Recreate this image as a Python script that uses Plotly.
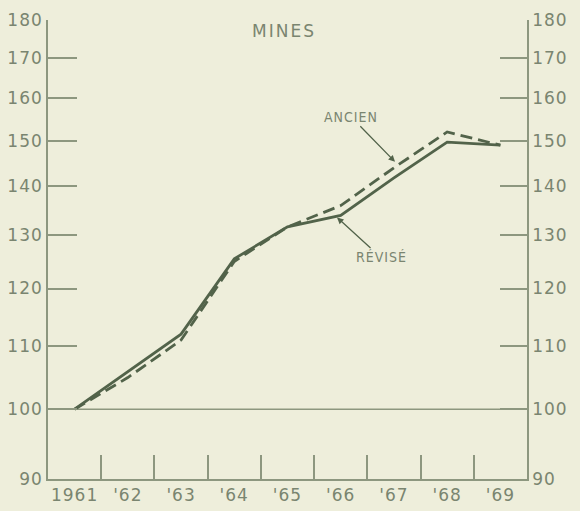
import math
import plotly.graph_objects as go

# ---- data ----
YEARS = [1961, 1962, 1963, 1964, 1965, 1966, 1967, 1968, 1969]
YEAR_LABELS = ["1961", "'62", "'63", "'64", "'65", "'66", "'67", "'68", "'69"]
REVISE = [100, 105.8, 112, 125.5, 131.7, 134, 141.8, 149.7, 149]
ANCIEN = [100, 104.9, 111, 125, 131.7, 136, 144, 152, 149]
Y_TICKS = [90, 100, 110, 120, 130, 140, 150, 160, 170, 180]
Y_TICK_LABELS = ["90", "100", "110", "120", "130", "140", "150", "160", "170", "180"]
BASE = 100
TITLE = "MINES"

# ---- style ----
BG = "#eeeedb"
AXIS = "#8d977f"
LINE = "#52634a"
TEXT = "#7a8570"
FONT = "DejaVu Sans"

x_min, x_max = YEARS[0] - 0.5, YEARS[-1] + 0.5
y_range = [math.log10(Y_TICKS[0]), math.log10(Y_TICKS[-1])]
boundaries = [y + 0.5 for y in YEARS[:-1]]


def spaced(s, px=2):
    return f'<span style="letter-spacing:{px}px">{s}</span>'


fig = go.Figure()

# baseline at index 100
fig.add_trace(go.Scatter(
    x=[x_min, x_max], y=[BASE, BASE], mode="lines",
    line=dict(color=AXIS, width=1.6), hoverinfo="skip", showlegend=False,
))
fig.add_trace(go.Scatter(
    x=YEARS, y=REVISE, mode="lines", name="Révisé",
    line=dict(color=LINE, width=2.8), showlegend=False,
))
fig.add_trace(go.Scatter(
    x=YEARS, y=ANCIEN, mode="lines", name="Ancien", yaxis="y2",
    line=dict(color=LINE, width=2.8, dash="12px,6px"), showlegend=False,
))

tickfont = dict(family=FONT, size=17, color=TEXT)
ytext = [spaced(t, 1) for t in Y_TICK_LABELS]
xtext = [spaced(t, 1) for t in YEAR_LABELS]

fig.update_layout(
    width=580, height=511,
    margin=dict(l=48, r=53, t=20, b=32),
    paper_bgcolor=BG, plot_bgcolor=BG,
    xaxis=dict(
        range=[x_min, x_max], tickmode="array", tickvals=YEARS, ticktext=xtext,
        ticks="", showline=True, linecolor=AXIS, linewidth=1.6, automargin=False,
        showgrid=False, zeroline=False, tickfont=tickfont,
        minor=dict(tickmode="array", tickvals=boundaries, ticks="inside",
                   ticklen=24, tickcolor=AXIS, tickwidth=1.6, showgrid=False),
    ),
    yaxis=dict(
        type="log", range=y_range, tickmode="array", tickvals=Y_TICKS,
        ticktext=ytext, ticks="inside", ticklen=29, tickcolor=AXIS,
        tickwidth=1.6, showline=True, linecolor=AXIS, linewidth=1.6,
        showgrid=False, zeroline=False, tickfont=tickfont, side="left",
        automargin=False,
    ),
    yaxis2=dict(
        type="log", range=y_range, tickmode="array", tickvals=Y_TICKS,
        ticktext=ytext, ticks="inside", ticklen=27, tickcolor=AXIS,
        tickwidth=1.6, showline=True, linecolor=AXIS, linewidth=1.6,
        showgrid=False, zeroline=False, tickfont=tickfont, side="right",
        overlaying="y", automargin=False,
    ),
    annotations=[
        dict(text=spaced(TITLE, 2), xref="paper", yref="paper", x=0.493, y=0.976,
             showarrow=False, font=dict(family=FONT, size=17, color=TEXT),
             xanchor="center", yanchor="middle"),
        dict(text=spaced("ANCIEN", 1), xref="x", yref="y", x=1967.02, y=math.log10(145.3),
             ax=-44, ay=-45, showarrow=True, arrowhead=2, arrowsize=1,
             arrowwidth=1.3, arrowcolor=LINE,
             font=dict(family="DejaVu Sans Condensed", size=14, color=TEXT)),
        dict(text=spaced("RÉVISÉ", 1), xref="x", yref="y", x=1965.93, y=math.log10(133.6),
             ax=44, ay=40, showarrow=True, arrowhead=2, arrowsize=1,
             arrowwidth=1.3, arrowcolor=LINE,
             font=dict(family="DejaVu Sans Condensed", size=14, color=TEXT)),
    ],
)

fig.write_html(
    "out.html",
    config={"displayModeBar": False},
    post_script="document.body.style.margin='0';document.body.style.background='" + BG + "';",
)
